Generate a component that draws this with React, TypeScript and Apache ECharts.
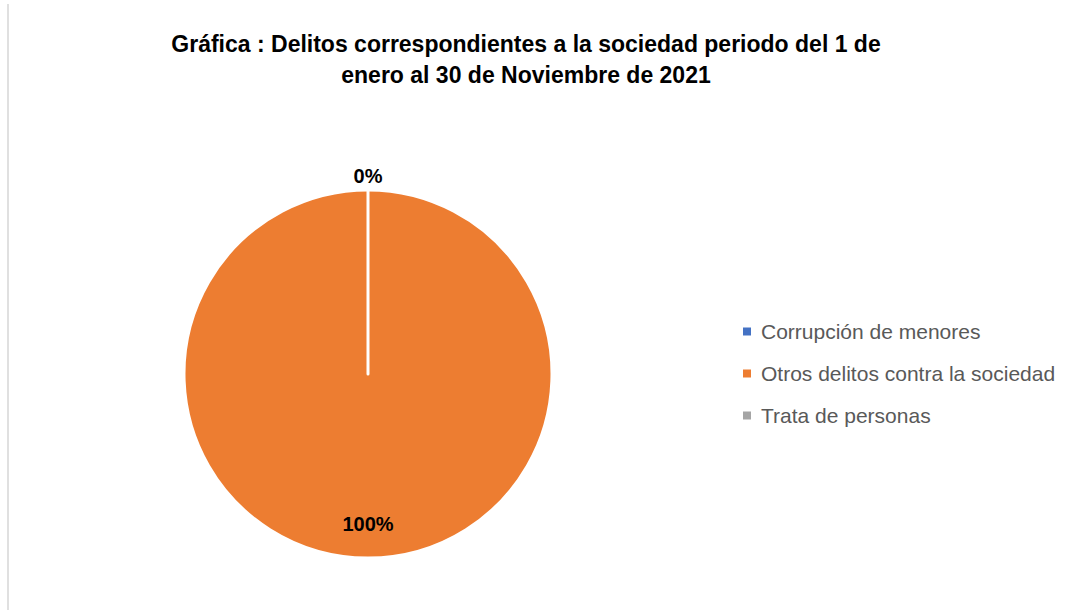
import React, { useEffect, useRef } from "react";
import * as echarts from "echarts";

const titleText = "Gráfica : Delitos correspondientes a la sociedad periodo del 1 de\nenero al 30 de Noviembre de 2021";
const categories = ["Corrupción de menores", "Otros delitos contra la sociedad", "Trata de personas"];
const values = [0, 100, 0];
const colors = ["#4472C4", "#ED7D31", "#A5A5A5"];

const R = 184;

export default function App() {
  const ref = useRef<HTMLDivElement>(null);
  useEffect(() => {
    if (!ref.current) return;
    const chart = echarts.init(ref.current, null, { renderer: "svg" });
    const total = values.reduce((a, b) => a + b, 0);
    chart.setOption({
      animation: false,
      backgroundColor: "#ffffff",
      title: {
        text: titleText,
        left: 521,
        top: 23,
        textAlign: "center",
        textStyle: {
          fontFamily: "Liberation Sans, Arial, sans-serif",
          fontSize: 23,
          fontWeight: "bold",
          color: "#000000",
          lineHeight: 31,
        },
      },
      legend: {
        orient: "vertical",
        left: 736,
        top: 316,
        itemWidth: 10,
        itemHeight: 10,
        itemGap: 21,
        icon: "rect",
        data: categories,
        textStyle: {
          fontFamily: "Liberation Sans, Arial, sans-serif",
          fontSize: 21,
          color: "#595959",
          padding: [0, 0, 0, 4],
        },
      },
      graphic: [
        {
          type: "rect",
          shape: { x: 7, y: 4, width: 2, height: 606 },
          style: { fill: "#e0e0e0" },
          silent: true,
        },
      ],
      series: [
        {
          type: "pie",
          center: [368, 374],
          radius: R,
          startAngle: 90,
          clockwise: true,
          avoidLabelOverlap: false,
          minShowLabelAngle: 0,
          labelLine: { show: false },
          itemStyle: { borderColor: "#ffffff", borderWidth: 3 },
          labelLayout: (p: any) =>
            p.dataIndex === 1 ? { dy: R * 0.8 - R / 2 } : { dy: -(R + 11) + R / 2 },
          data: categories.map((name, i) => ({
            name,
            value: values[i],
            itemStyle: { color: colors[i] },
            label: { show: i !== 2, position: "inside" },
          })),
          label: {
            formatter: (p: any) => Math.round((p.value / total) * 100) + "%",
            fontFamily: "Liberation Sans, Arial, sans-serif",
            fontSize: 20,
            fontWeight: "bold",
            color: "#000000",
          },
        },
      ],
    });
    return () => chart.dispose();
  }, []);
  return (
    <div
      ref={ref}
      style={{ position: "fixed", left: 0, top: 0, width: 1086, height: 610 }}
    />
  );
}
